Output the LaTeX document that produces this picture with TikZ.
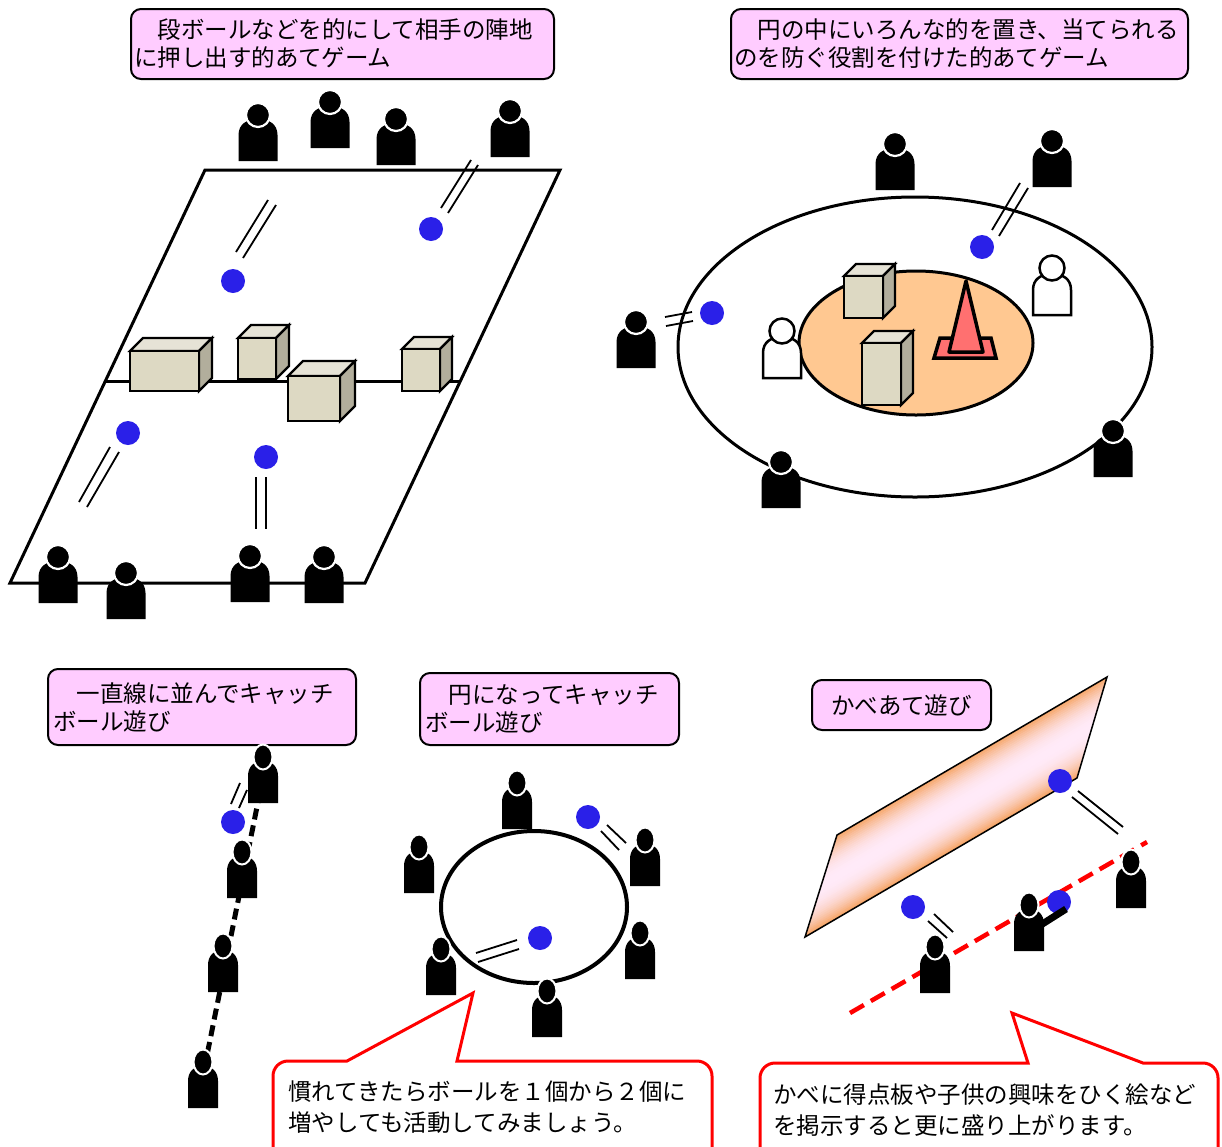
\documentclass[tikz,border=0pt]{standalone}
\usepackage{fontspec}
\newfontfamily\jpfont{Noto Sans CJK JP}

\definecolor{ballblue}{RGB}{42,32,232}
\definecolor{titlepink}{RGB}{255,204,255}
\definecolor{boxfront}{RGB}{221,217,195}
\definecolor{boxtop}{RGB}{230,227,214}
\definecolor{boxside}{RGB}{178,174,156}
\definecolor{peach}{RGB}{255,200,145}
\definecolor{conered}{RGB}{255,112,112}
\definecolor{wallorange}{RGB}{245,163,98}
\definecolor{wallpink}{RGB}{255,234,248}

\tikzset{
  titlebox/.style={draw=black, line width=2pt, fill=titlepink, rounded corners=10pt,
    inner xsep=3pt, inner ysep=0pt, align=left,
    font=\jpfont\fontsize{23.5}{28}\selectfont},
  callouttext/.style={align=left, inner sep=0pt, font=\jpfont\fontsize{23.5}{31}\selectfont},
  courtline/.style={line width=3pt, line join=miter},
  motion/.style={line width=1.8pt},
  boxline/.style={line width=2.2pt, line join=miter},
  callout/.style={draw=red, line width=3pt, fill=white, line join=miter},
}

% solid figure, wide body (#1,#2 = bottom centre)
\newcommand{\manwide}[2]{%
  \begin{scope}[shift={(#1,#2)}]
    \fill (-19.5,0) -- (-19.5,-26) .. controls (-19.5,-37) and (-11,-42) .. (0,-42)
      .. controls (11,-42) and (19.5,-37) .. (19.5,-26) -- (19.5,0) -- cycle;
    \filldraw[draw=white, line width=2.2pt, fill=black] (0,-46) circle [radius=12];
  \end{scope}}
% solid figure, narrow body with oval head
\newcommand{\mannarrow}[2]{%
  \begin{scope}[shift={(#1,#2)}]
    \fill (-15,0) -- (-15,-27) .. controls (-15,-37) and (-8.5,-42) .. (0,-42)
      .. controls (8.5,-42) and (15,-37) .. (15,-27) -- (15,0) -- cycle;
    \filldraw[draw=white, line width=2pt, fill=black] (0,-46) ellipse [x radius=9.5, y radius=12.5];
  \end{scope}}
% outlined (defending) figure
\newcommand{\manhollow}[2]{%
  \begin{scope}[shift={(#1,#2)}]
    \filldraw[fill=white, line width=2.5pt, line join=miter] (-19,0) -- (-19,-25)
      .. controls (-19,-36) and (-11,-41) .. (0,-41)
      .. controls (11,-41) and (19,-36) .. (19,-25) -- (19,0) -- cycle;
    \filldraw[fill=white, line width=2.5pt] (0,-47) circle [radius=12.5];
  \end{scope}}
% cuboid: front top-left corner (#1,#2), width #3, height #4, depth #5
\newcommand{\cuboid}[5]{%
  \filldraw[boxline, fill=boxtop] (#1,#2) -- ++(#5,-#5) -- ++(#3,0) -- ++(-#5,#5) -- cycle;
  \filldraw[boxline, fill=boxside] (#1+#3,#2) -- ++(#5,-#5) -- ++(0,#4) -- ++(-#5,#5) -- cycle;
  \filldraw[boxline, fill=boxfront] (#1,#2) rectangle ++(#3,#4);}
\newcommand{\bluedot}[2]{\fill[ballblue] (#1,#2) circle [radius=12];}

\begin{document}
\begin{tikzpicture}[x=1pt, y=-1pt]
\useasboundingbox (0,0) rectangle (1222,1146);
\clip (0,0) rectangle (1222,1146);

% ---------------- court game ----------------
\node[titlebox, text width=417pt, minimum height=70pt, anchor=north west] (t1) at (130,8)
  {　段ボールなどを的にして相手の陣地\\に押し出す的あてゲーム};
\draw[courtline] (205,170) -- (560,170) -- (365,583) -- (10,583) -- cycle;
\draw[courtline] (105,381) -- (460,381);
\cuboid{130}{351}{69}{40}{13}
\cuboid{238}{338}{38}{41}{13}
\cuboid{288}{376}{52}{45}{15}
\cuboid{402}{349}{38}{42}{12}
\bluedot{431}{229}
\bluedot{233}{281}
\bluedot{128}{433}
\bluedot{266}{457}
\draw[motion] (441,208) -- (471,160);
\draw[motion] (448,213) -- (478,165);
\draw[motion] (236,252) -- (268,200);
\draw[motion] (243,258) -- (276,205);
\draw[motion] (79,502) -- (110,447);
\draw[motion] (87,507) -- (119,452);
\draw[motion] (256,477) -- (256,529);
\draw[motion] (266,477) -- (266,529);
\manwide{258}{161}
\manwide{330}{148}
\manwide{396}{165}
\manwide{510}{157}
\manwide{58}{603}
\manwide{126}{619}
\manwide{250}{602}
\manwide{324}{603}

% ---------------- circle target game ----------------
\node[titlebox, text width=451pt, minimum height=70pt, anchor=north west] (t2) at (730,8)
  {　円の中にいろんな的を置き、当てられる\\のを防ぐ役割を付けた的あてゲーム};
\draw[line width=3pt] (915,347) ellipse [x radius=237, y radius=150];
\filldraw[fill=peach, line width=3pt] (916,343) ellipse [x radius=117, y radius=72];
\cuboid{844}{276}{39}{42}{12}
\cuboid{862}{343}{39}{62}{12}
\filldraw[fill=conered, line width=3.5pt, line join=miter] (934,358) -- (996,358) -- (991,338) -- (940,338) -- cycle;
\filldraw[fill=conered, line width=3.5pt, line join=round] (966,281) -- (983,352) -- (949,352) -- cycle;
\manhollow{782}{378}
\manhollow{1052}{315}
\manwide{895}{190}
\manwide{1052}{187}
\manwide{636}{368}
\manwide{781}{508}
\manwide{1113}{477}
\bluedot{982}{247}
\bluedot{712}{313}
\draw[motion] (992,230) -- (1020,183);
\draw[motion] (999,236) -- (1028,188);
\draw[motion] (665,317) -- (692,312);
\draw[motion] (666,326) -- (693,321);

% ---------------- catch in a line ----------------
\node[titlebox, inner xsep=5pt, text width=298pt, minimum height=76pt, anchor=north west] (t3) at (47,668)
  {　一直線に並んでキャッチ\\ボール遊び};
\draw[line width=5pt, dash pattern=on 11pt off 6pt] (260,792) -- (203,1075);
\bluedot{233}{822}
\draw[motion] (231,804) -- (240,783);
\draw[motion] (239,808) -- (247,790);
\mannarrow{263}{803}
\mannarrow{242}{898}
\mannarrow{223}{992}
\mannarrow{203}{1108}

% ---------------- catch in a circle ----------------
\node[titlebox, inner xsep=5pt, text width=249pt, minimum height=72pt, anchor=north west] (t4) at (419,672)
  {　円になってキャッチ\\ボール遊び};
\draw[line width=4pt] (534,907) ellipse [x radius=93, y radius=76];
\mannarrow{517}{829}
\mannarrow{419}{893}
\mannarrow{645}{886}
\mannarrow{640}{979}
\mannarrow{441}{995}
\mannarrow{547}{1037}
\bluedot{588}{817}
\bluedot{540}{938}
\draw[motion] (601,831) -- (619,850);
\draw[motion] (607,825) -- (626,843);
\draw[motion] (476,953) -- (517,940);
\draw[motion] (478,962) -- (519,949);

% ---------------- wall game ----------------
\node[titlebox, minimum width=179pt, minimum height=50pt] (t5) at (901.5,705) {かべあて遊び};
\begin{scope}
  \clip (837,835) -- (1107,677) -- (1077,778) -- (805,937) -- cycle;
  \foreach \i in {0,...,39} {
    \pgfmathsetmacro{\tt}{(\i+0.5)*1.9}
    \pgfmathtruncatemacro{\ff}{min(100,100*(abs(\tt-36)/36)^2.2)}
    \draw[line width=2.3pt, wallorange!\ff!wallpink]
      ({837+0.505*\tt-0.863*100},{835+0.863*\tt+0.505*100}) --
      ({837+0.505*\tt+0.863*400},{835+0.863*\tt-0.505*400});
  }
\end{scope}
\draw[line width=1.5pt, line join=miter] (837,835) -- (1107,677) -- (1077,778) -- (805,937) -- cycle;
\draw[red, line width=4.5pt, dash pattern=on 16pt off 8pt] (850,1013) -- (1147,842);
\bluedot{1060}{781}
\bluedot{913}{907}
\bluedot{1059}{902}
\draw[motion] (1078,791) -- (1123,827);
\draw[motion] (1072,797) -- (1118,834);
\draw[motion] (934,914) -- (953,932);
\draw[motion] (928,921) -- (947,938);
\mannarrow{935}{993}
\mannarrow{1029}{951}
\draw[line width=7pt] (1036,928) -- (1066,909);
\mannarrow{1131}{908}

% ---------------- call-outs ----------------
\draw[callout] (347,1061) -- (473,993) -- (457,1061) -- (697,1061)
  arc[start angle=-90, end angle=0, radius=15] -- (712,1200) -- (273,1200) -- (273,1076)
  arc[start angle=180, end angle=270, radius=15] -- cycle;
\node[callouttext, anchor=west] (c1) at (288,1107)
  {慣れてきたらボールを１個から２個に\\増やしても活動してみましょう。};
\draw[callout] (1028,1063) -- (1012,1013) -- (1143,1063) -- (1203,1063)
  arc[start angle=-90, end angle=0, radius=15] -- (1218,1200) -- (760,1200) -- (760,1078)
  arc[start angle=180, end angle=270, radius=15] -- cycle;
\node[callouttext, anchor=west] (c2) at (773,1110)
  {かべに得点板や子供の興味をひく絵など\\を掲示すると更に盛り上がります。};
\end{tikzpicture}
\end{document}
